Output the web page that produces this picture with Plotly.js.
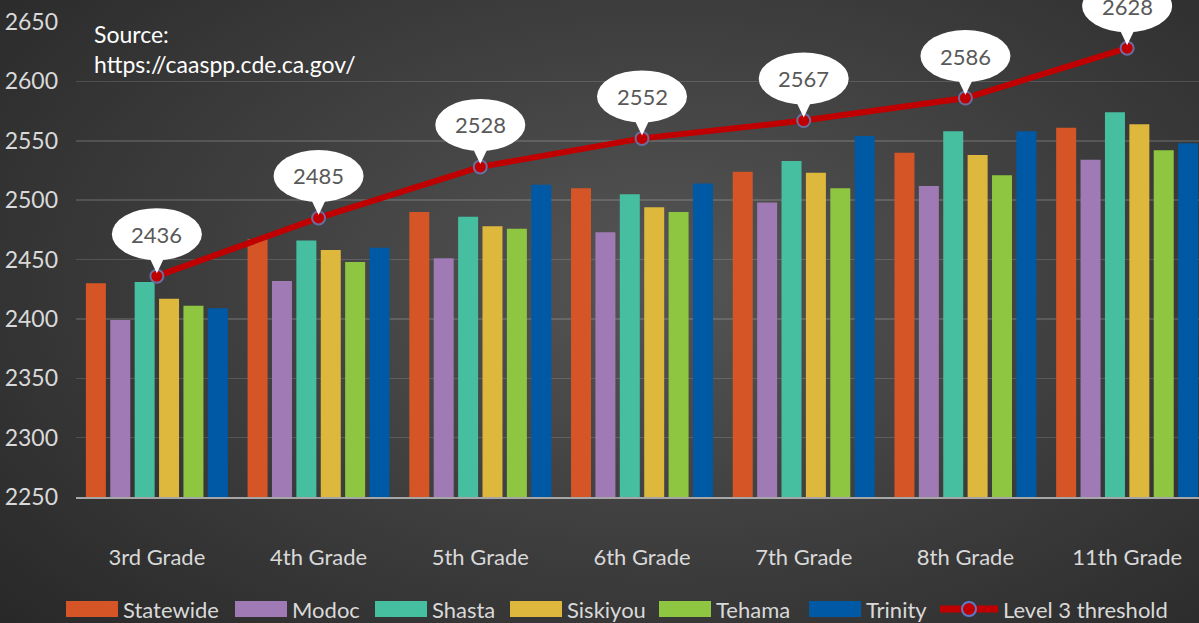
<!DOCTYPE html>
<html>
<head>
<meta charset="utf-8">
<script src="https://cdn.plot.ly/plotly-3.0.1.min.js"></script>
<style>
html,body{margin:0;padding:0;overflow:hidden;width:1199px;height:623px;}
body{background:radial-gradient(ellipse 75% 85% at 55% 45%, #555555 0%, #404040 45%, #272727 100%);}
#chart{width:1208px;height:623px;}
</style>
</head>
<body>
<div id="chart"></div>
<script>
const grades = ["3rd Grade","4th Grade","5th Grade","6th Grade","7th Grade","8th Grade","11th Grade"];
const statewide = [2430, 2467, 2490, 2510, 2524, 2540, 2561];
const modoc     = [2399, 2432, 2451, 2473, 2498, 2512, 2534];
const shasta    = [2431, 2466, 2486, 2505, 2533, 2558, 2574];
const siskiyou  = [2417, 2458, 2478, 2494, 2523, 2538, 2564];
const tehama    = [2411, 2448, 2476, 2490, 2510, 2521, 2542];
const trinity   = [2409, 2460, 2513, 2514, 2554, 2558, 2548];
const level3    = [2436, 2485, 2528, 2552, 2567, 2586, 2628];

const seriesNames = ["Statewide","Modoc","Shasta","Siskiyou","Tehama","Trinity"];
const seriesData = [statewide, modoc, shasta, siskiyou, tehama, trinity];
const seriesColors = ["#D55527","#9F7AB5","#46BEA0","#DDB83C","#8EC641","#0059A5"];
const lineName = "Level 3 threshold";

const YMIN = 2250, YMAX = 2650;
const FONT = "Lato, 'Open Sans', sans-serif";

// layout geometry (pixels)
const W = 1208, H = 623, ML = 76, MR = 0, MT = 22, MB = 126;
const PW = W - ML - MR, PH = H - MT - MB;
const fx = px => (px - ML) / PW;
const fy = py => (H - MB - py) / PH;

const traces = seriesNames.map((n,i)=>({
  type:"bar", name:n, x:grades, y:seriesData[i],
  marker:{color:seriesColors[i], line:{width:0}}
}));
traces.push({
  type:"scatter", mode:"lines+markers", name:lineName,
  x:grades, y:level3,
  line:{color:"#C00000", width:6},
  marker:{color:"#C00000", size:13, line:{color:"#6A6E9E", width:2}}
});

const shapes = [];
const annotations = [];
level3.forEach((v,i)=>{
  const ya = (v - YMIN) / (YMAX - YMIN);
  shapes.push({
    type:"path", layer:"above", xref:"x", yref:"paper",
    xsizemode:"pixel", ysizemode:"pixel", xanchor:i, yanchor:ya,
    path:"M -10 24 L 0 3 L 10 24 Z",
    fillcolor:"#FFFFFF", line:{width:0}
  });
  shapes.push({
    type:"circle", layer:"above", xref:"x", yref:"paper",
    xsizemode:"pixel", ysizemode:"pixel", xanchor:i, yanchor:ya,
    x0:-45, x1:45, y0:16, y1:68,
    fillcolor:"#FFFFFF", line:{width:0}
  });
  annotations.push({
    x:i, y:v, xref:"x", yref:"y", text:String(v), showarrow:false,
    yshift:42, font:{family:FONT, size:22, color:"#595959"}
  });
});
annotations.push({
  xref:"paper", yref:"paper", x:fx(92), y:fy(18), xanchor:"left", yanchor:"top",
  align:"left", showarrow:false,
  text:"Source:<br>https://caaspp.cde.ca.gov/",
  font:{family:FONT, size:23, color:"#FFFFFF"}
});

// custom legend (paper coordinates)
const legSwatchX = [66, 235, 375, 510, 659, 809];
const legY = 609;
seriesNames.forEach((n,i)=>{
  shapes.push({
    type:"rect", xref:"paper", yref:"paper",
    x0:fx(legSwatchX[i]), x1:fx(legSwatchX[i]+52), y0:fy(legY+8), y1:fy(legY-8),
    fillcolor:seriesColors[i], line:{width:0}
  });
  annotations.push({
    xref:"paper", yref:"paper", x:fx(legSwatchX[i]+55), y:fy(legY),
    xanchor:"left", yanchor:"middle", showarrow:false, text:n,
    font:{family:FONT, size:22, color:"#D9D9D9"}
  });
});
shapes.push({
  type:"line", xref:"paper", yref:"paper",
  x0:fx(940), x1:fx(998), y0:fy(legY), y1:fy(legY),
  line:{color:"#C00000", width:7}
});
shapes.push({
  type:"circle", xref:"paper", yref:"paper",
  x0:fx(962), x1:fx(976), y0:fy(legY+7), y1:fy(legY-7),
  fillcolor:"#C00000", line:{color:"#5B7BC8", width:2}
});
annotations.push({
  xref:"paper", yref:"paper", x:fx(1001), y:fy(legY),
  xanchor:"left", yanchor:"middle", showarrow:false, text:lineName,
  font:{family:FONT, size:22, color:"#D9D9D9"}
});

const layout = {
  width:W, height:H,
  paper_bgcolor:"rgba(0,0,0,0)", plot_bgcolor:"rgba(0,0,0,0)",
  margin:{l:ML, r:MR, t:MT, b:MB},
  barmode:"group", bargap:0.095, bargroupgap:0.18,
  font:{family:FONT, color:"#D9D9D9"},
  xaxis:{
    type:"category", showgrid:false, zeroline:false,
    showline:true, linecolor:"#A6A6A6", linewidth:2,
    ticks:"", tickfont:{family:FONT, size:22, color:"#D9D9D9"},
    ticklabelstandoff:40
  },
  yaxis:{
    range:[YMIN, YMAX], dtick:50, showgrid:true,
    gridcolor:"rgba(255,255,255,0.14)", gridwidth:1.5,
    zeroline:false, showline:false, ticks:"",
    tickfont:{family:FONT, size:23, color:"#D9D9D9"},
    ticklabelstandoff:17
  },
  showlegend:false,
  shapes:shapes, annotations:annotations
};

Plotly.newPlot("chart", traces, layout, {displayModeBar:false, staticPlot:true});
</script>
</body>
</html>
